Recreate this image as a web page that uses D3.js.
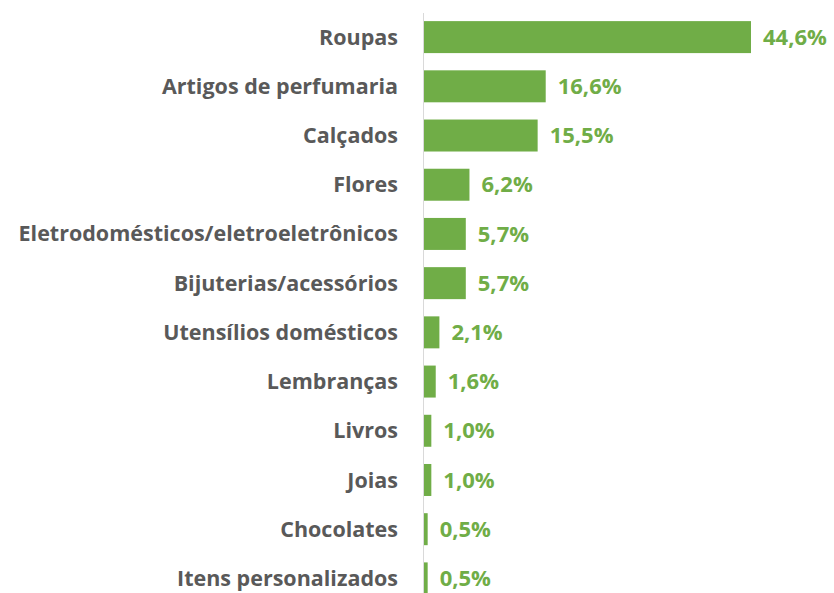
<!DOCTYPE html>
<html lang="pt">
<head>
  <meta charset="UTF-8">
  <title>Categorias</title>
  <script src="https://d3js.org/d3.v7.min.js"></script>
  <style>
    body { margin: 0; background: #fff; }
    #chart { display: block; }
    .cat-label { font-family: "Open Sans", sans-serif; font-weight: bold; font-size: 21.5px; fill: #595959; }
    .val-label { font-family: "Open Sans", sans-serif; font-weight: bold; font-size: 22px; fill: #70AD47; }
  </style>
</head>
<body>
<div id="chart"></div>
<script>
  const categories = ["Roupas", "Artigos de perfumaria", "Calçados", "Flores",
    "Eletrodomésticos/eletroeletrônicos", "Bijuterias/acessórios", "Utensílios domésticos",
    "Lembranças", "Livros", "Joias", "Chocolates", "Itens personalizados"];
  const values = [44.6, 16.6, 15.5, 6.2, 5.7, 5.7, 2.1, 1.6, 1.0, 1.0, 0.5, 0.5];

  const data = categories.map((c, i) => ({ cat: c, val: values[i] }));

  const W = 834, H = 593;
  const x0 = 424;

  const svg = d3.select("#chart").append("svg")
    .attr("width", W)
    .attr("height", H);

  const y = d3.scaleBand()
    .domain(categories)
    .range([12.5, 603])
    .paddingInner(0.35)
    .paddingOuter(0.175);

  const x = d3.scaleLinear()
    .domain([0, 44.6])
    .range([x0, 751]);

  svg.selectAll("rect.bar")
    .data(data)
    .enter()
    .append("rect")
    .attr("class", "bar")
    .attr("x", x(0))
    .attr("y", d => y(d.cat))
    .attr("width", d => x(d.val) - x(0))
    .attr("height", y.bandwidth())
    .attr("fill", "#70AD47");

  // eixo vertical
  svg.append("line")
    .attr("x1", x0 - 0.5).attr("x2", x0 - 0.5)
    .attr("y1", 13).attr("y2", H)
    .attr("stroke", "#d9d9d9")
    .attr("stroke-width", 1);

  svg.selectAll("text.cat-label")
    .data(data)
    .enter()
    .append("text")
    .attr("class", "cat-label")
    .attr("x", x0 - 26)
    .attr("y", d => y(d.cat) + y.bandwidth() / 2)
    .attr("dy", "0.35em")
    .attr("text-anchor", "end")
    .text(d => d.cat);

  svg.selectAll("text.val-label")
    .data(data)
    .enter()
    .append("text")
    .attr("class", "val-label")
    .attr("x", d => x(d.val) + 12)
    .attr("y", d => y(d.cat) + y.bandwidth() / 2)
    .attr("dy", "0.35em")
    .text(d => d.val.toFixed(1).replace(".", ",") + "%");
</script>
</body>
</html>
